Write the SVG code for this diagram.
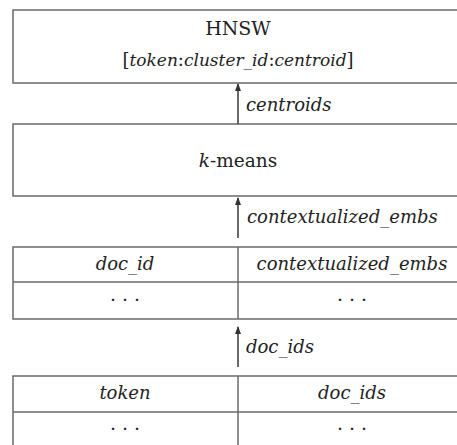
<svg xmlns="http://www.w3.org/2000/svg" width="457" height="445" viewBox="0 0 457 445">
<style>
.box{fill:#fff;stroke:#6a6a6a;stroke-width:1.5}
.ln{stroke:#6a6a6a;stroke-width:1.5;fill:none}
.t{font-family:'DejaVu Serif',serif;font-size:19px;fill:#222}
.i{font-style:italic;font-size:18px}
.c{text-anchor:middle}
.arr{stroke:#444;stroke-width:1.6;fill:none;marker-end:url(#ah)}
</style>
<defs>
<marker id="ah" markerWidth="8" markerHeight="10" refX="7" refY="4" orient="auto" markerUnits="userSpaceOnUse" viewBox="0 0 8 8">
<path d="M0,1 L8,4 L0,7 Z" fill="#333"/>
</marker>
</defs>
<rect width="457" height="445" fill="#fff"/>
<g id="hnsw">
<rect class="box" x="13" y="10" width="453" height="73"/>
<text class="t c" x="238" y="35">HNSW</text>
<text class="t c" x="238" y="66" style="font-size:18px">[<tspan class="i" style="font-size:17px">token</tspan>:<tspan class="i" style="font-size:17px">cluster_id</tspan>:<tspan class="i" style="font-size:17px">centroid</tspan>]</text>
</g>
<g id="kmeans">
<rect class="box" x="13" y="124" width="453" height="72"/>
<text class="t c" x="238" y="167" style="font-size:18.5px"><tspan class="i" style="font-size:18.5px">k</tspan>-means</text>
</g>
<g id="table1">
<rect class="box" x="13" y="247" width="453" height="72"/>
<line class="ln" x1="13" y1="282" x2="466" y2="282"/>
<line class="ln" x1="238" y1="247" x2="238" y2="319"/>
<text class="t c i" x="125" y="270">doc_id</text>
<text class="t c i" x="352" y="270">contextualized_embs</text>
<text class="t c" x="125" y="301">. . .</text>
<text class="t c" x="352" y="301">. . .</text>
</g>
<g id="table2">
<rect class="box" x="13" y="376" width="453" height="80"/>
<line class="ln" x1="13" y1="412" x2="466" y2="412"/>
<line class="ln" x1="238" y1="376" x2="238" y2="456"/>
<text class="t c i" x="125" y="399">token</text>
<text class="t c i" x="352" y="399">doc_ids</text>
<text class="t c" x="125" y="430">. . .</text>
<text class="t c" x="352" y="430">. . .</text>
</g>
<g id="connectors">
<line class="arr" x1="238" y1="124" x2="238" y2="84"/>
<line class="arr" x1="238" y1="238" x2="238" y2="198"/>
<line class="arr" x1="238" y1="367" x2="238" y2="327"/>
<text class="t i" x="246" y="111">centroids</text>
<text class="t i" x="247" y="223">contextualized_embs</text>
<text class="t i" x="246" y="353">doc_ids</text>
</g>
</svg>
